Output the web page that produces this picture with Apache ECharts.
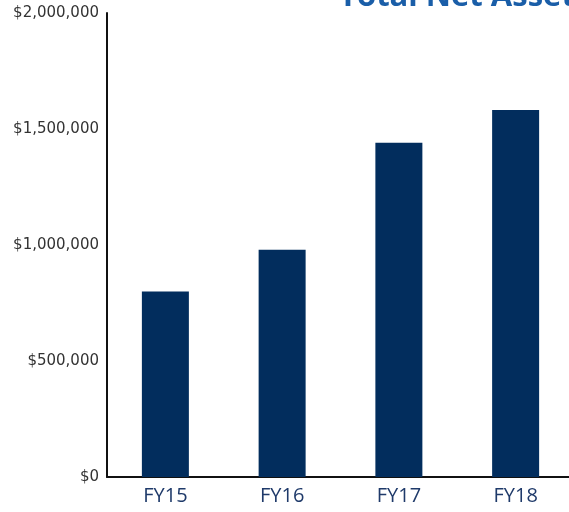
<!DOCTYPE html>
<html>
<head>
<meta charset="utf-8">
<script src="https://cdn.jsdelivr.net/npm/echarts@6/dist/echarts.min.js"></script>
<style>
	html, body { margin: 0; padding: 0; background: #fff; }
	#main { width: 569px; height: 512px; }
</style>
</head>
<body>
<div id="main"></div>
<script>
	// data
	var categories = ['FY15', 'FY16', 'FY17', 'FY18'];
	var netAssets = [800000, 980000, 1441000, 1582000];
	var yTicks = [0, 500000, 1000000, 1500000, 2000000];

	var chart = echarts.init(document.getElementById('main'));
	chart.setOption({
		animation: false,
		title: {
			text: 'Total Net Assets',
			left: 334,
			top: -23,
			textStyle: {
				color: '#1a5ea8',
				fontSize: 31,
				fontWeight: 'bold',
				fontFamily: 'Open Sans'
			}
		},
		grid: {
			left: 107,
			width: 467,
			top: 13,
			bottom: 35,
			containLabel: false,
			outerBoundsMode: 'none'
		},
		xAxis: {
			type: 'category',
			data: categories,
			axisLine: { lineStyle: { color: '#111', width: 2 } },
			axisTick: { show: false },
			axisLabel: {
				color: '#1f3a6a',
				fontSize: 20,
				fontFamily: 'Open Sans',
				margin: 9
			}
		},
		yAxis: {
			type: 'value',
			min: yTicks[0],
			max: yTicks[yTicks.length - 1],
			interval: 500000,
			splitLine: { show: false },
			axisLine: { show: true, lineStyle: { color: '#111', width: 2 } },
			axisTick: { show: false },
			axisLabel: {
				color: '#333',
				fontSize: 15,
				fontFamily: 'DejaVu Sans',
				margin: 8,
				padding: [6, 0, 0, 0],
				formatter: function (v) {
					return '$' + v.toLocaleString('en-US');
				}
			}
		},
		series: [{
			type: 'bar',
			data: netAssets,
			barWidth: 47,
			itemStyle: { color: '#022d5d' }
		}]
	});
</script>
</body>
</html>
